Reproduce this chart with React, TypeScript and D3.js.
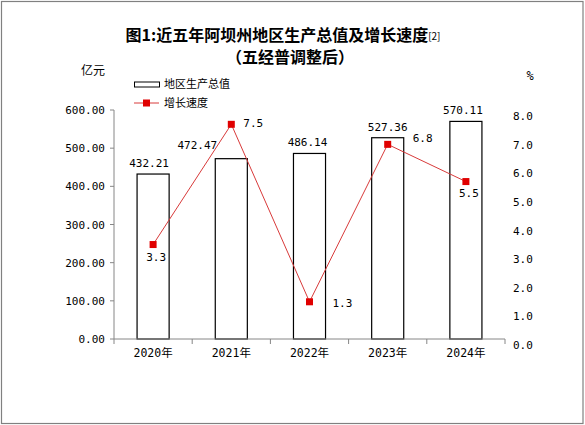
import React from "react";
import * as d3 from "d3";

const categories = ["2020年", "2021年", "2022年", "2023年", "2024年"];
const gdpValues = [432.21, 472.47, 486.14, 527.36, 570.11];
const growthValues = [3.3, 7.5, 1.3, 6.8, 5.5];
const leftTicks = [0, 100, 200, 300, 400, 500, 600];
const rightTicks = [0, 1, 2, 3, 4, 5, 6, 7, 8];
// label placement offsets (style)
const gdpLabelDx = [-4, -34, -2, 0, -3];
const growthLabelAnchor = ["middle", "start", "start", "start", "middle"];
const growthLabelDx = [3, 12, 23, 25, 3];
const growthLabelDy = [16.5, 3, 5, -2.5, 15.5];

const W = 585;
const H = 425;
const M = { left: 114, right: 505, top: 110, bottom: 339 };
const NUM_FONT = "'DejaVu Sans Mono', 'Noto Sans CJK SC', monospace";
const CJK_FONT = "'Noto Sans CJK SC', sans-serif";
const AXIS = "#868686";
const RED = "#e00000";
const LINE = "#d83a3a";

export default function App() {
  const x = d3.scaleBand<string>().domain(categories).range([M.left, M.right]).paddingInner(0).paddingOuter(0);
  const yL = d3.scaleLinear().domain([0, 600]).range([M.bottom, M.top]);
  const yR = d3.scaleLinear().domain([0, 8]).range([M.bottom, M.top]);
  const bw = x.bandwidth() * 0.41;
  const cx = (c: string) => (x(c) as number) + x.bandwidth() / 2;
  const line = d3
    .line<number>()
    .x((_, i) => cx(categories[i]))
    .y((d) => yR(d));

  return (
    <svg width={W} height={H} style={{ position: "absolute", left: 0, top: 0, background: "#fff" }}>
      <rect x={1.5} y={1.5} width={W - 3.5} height={H - 3} fill="#fff" stroke="#808080" strokeWidth={1.2} />
      {/* title */}
      <text x={283} y={41} textAnchor="middle" fontFamily={CJK_FONT} fontWeight="bold" fontSize={16} fill="#000">
        图1:近五年阿坝州地区生产总值及增长速度
        <tspan fontSize={10} fontWeight="normal" dy={-1}>[2]</tspan>
      </text>
      <text x={290} y={63} textAnchor="middle" fontFamily={CJK_FONT} fontWeight="bold" fontSize={16} fill="#000">
        （五经普调整后）
      </text>
      {/* unit labels */}
      <text x={81} y={75} fontFamily={CJK_FONT} fontSize={12} fill="#000">亿元</text>
      <text x={530} y={80} fontFamily={NUM_FONT} fontSize={12} fill="#000" textAnchor="middle">%</text>
      {/* legend */}
      <rect x={134.5} y={82} width={25} height={5} fill="#fff" stroke="#000" strokeWidth={1} />
      <text x={164} y={88} fontFamily={CJK_FONT} fontSize={11} fill="#000">地区生产总值</text>
      <line x1={134} x2={159} y1={103} y2={103} stroke={LINE} strokeWidth={1} />
      <rect x={143} y={99.5} width={7} height={7} fill={RED} />
      <text x={164} y={107} fontFamily={CJK_FONT} fontSize={11} fill="#000">增长速度</text>
      {/* bars */}
      {categories.map((c, i) => (
        <rect
          key={c}
          x={cx(c) - bw / 2}
          y={yL(gdpValues[i])}
          width={bw}
          height={yL(0) - yL(gdpValues[i])}
          fill="#fff"
          stroke="#000"
          strokeWidth={1.2}
        />
      ))}
      {/* left axis */}
      <line x1={M.left} x2={M.left} y1={M.top} y2={M.bottom} stroke={AXIS} />
      {leftTicks.map((t) => (
        <g key={t}>
          <line x1={M.left - 4} x2={M.left} y1={yL(t)} y2={yL(t)} stroke={AXIS} />
          <text x={105} y={yL(t) + 4} textAnchor="end" fontFamily={NUM_FONT} fontSize={11} fill="#000">
            {t.toFixed(2)}
          </text>
        </g>
      ))}
      {/* x axis */}
      <line x1={M.left} x2={M.right} y1={M.bottom} y2={M.bottom} stroke={AXIS} />
      {[...categories.map((c) => x(c) as number), M.right].map((p, i) => (
        <line key={i} x1={p} x2={p} y1={M.bottom} y2={M.bottom + 5} stroke={AXIS} />
      ))}
      {categories.map((c) => (
        <text key={c} x={cx(c)} y={357} textAnchor="middle" fontFamily={NUM_FONT} fontSize={11.5} fill="#000">
          {c}
        </text>
      ))}
      {/* right axis labels */}
      {rightTicks.map((t) => (
        <text key={t} x={513} y={yR(t) + 10} fontFamily={NUM_FONT} fontSize={11} fill="#000">
          {t.toFixed(1)}
        </text>
      ))}
      {/* gdp labels */}
      {categories.map((c, i) => (
        <text
          key={c}
          x={cx(c) + gdpLabelDx[i]}
          y={yL(gdpValues[i]) - (i === 1 ? 10 : 7)}
          textAnchor="middle"
          fontFamily={NUM_FONT}
          fontSize={11}
          fill="#000"
        >
          {gdpValues[i].toFixed(2)}
        </text>
      ))}
      {/* growth line */}
      <path d={line(growthValues) as string} fill="none" stroke={LINE} strokeWidth={1} />
      {growthValues.map((v, i) => (
        <rect key={i} x={cx(categories[i]) - 3.5} y={yR(v) - 3.5} width={7} height={7} fill={RED} />
      ))}
      {growthValues.map((v, i) => (
        <text
          key={i}
          x={cx(categories[i]) + growthLabelDx[i]}
          y={yR(v) + growthLabelDy[i]}
          textAnchor={growthLabelAnchor[i]}
          fontFamily={NUM_FONT}
          fontSize={11}
          fill="#000"
        >
          {v.toFixed(1)}
        </text>
      ))}
    </svg>
  );
}
